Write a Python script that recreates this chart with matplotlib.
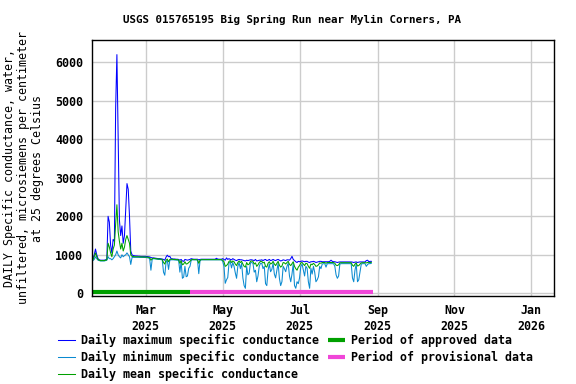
import numpy as np
import matplotlib
matplotlib.use("Agg")
import matplotlib.pyplot as plt
import matplotlib.dates as mdates

# daily values, 2025-01-17 .. 2025-08-27 (microsiemens per cm)
max_jan = [870, 900, 1000, 1150, 1000, 900, 870, 860, 860, 860, 860, 870, 880, 2000, 1850]
mean_jan = [850, 870, 950, 1050, 950, 880, 860, 850, 850, 850, 850, 860, 870, 1300, 1200]
min_jan = [840, 850, 880, 950, 900, 860, 850, 840, 840, 840, 840, 850, 860, 950, 900]

max_feb = [1250, 1050, 1400, 1350, 4800, 6200, 4000, 1900, 1500, 1750, 1300, 1500, 2200, 2850,
           2700, 2000, 1100, 1000, 980, 975, 970, 970, 965, 965, 960, 960, 960, 960]
mean_feb = [1050, 950, 1150, 1250, 1800, 2300, 1600, 1350, 1150, 1300, 1100, 1200, 1400, 1500,
            1400, 1300, 1000, 960, 955, 950, 950, 950, 948, 948, 946, 946, 945, 945]
min_feb = [900, 870, 900, 950, 1000, 1100, 1000, 950, 920, 1000, 950, 980, 1000, 1050,
           1000, 950, 750, 930, 935, 935, 935, 935, 935, 932, 932, 932, 930, 930]

max_mar = [960, 955, 950, 945, 930, 920, 920, 915, 910, 905, 900, 900, 895, 890, 880, 860,
           940, 990, 950, 960, 900, 895, 890, 890, 885, 885, 880, 860, 880, 840, 830]
mean_mar = [945, 940, 935, 925, 860, 900, 910, 905, 900, 895, 890, 890, 885, 880, 800, 760,
            860, 890, 820, 880, 885, 885, 880, 880, 875, 875, 870, 780, 850, 740, 760]
min_mar = [930, 925, 920, 900, 600, 880, 900, 895, 890, 885, 880, 880, 875, 870, 550, 470,
           800, 860, 620, 860, 870, 870, 870, 865, 865, 860, 860, 550, 820, 390, 420]

max_apr = [880, 870, 860, 870, 880, 900, 890, 885, 885, 885, 885, 870, 880, 885, 885,
           885, 885, 885, 885, 885, 885, 885, 885, 885, 885, 910, 890, 885, 885, 885]
mean_apr = [820, 760, 770, 800, 830, 870, 880, 875, 875, 875, 870, 780, 860, 875, 875,
            875, 875, 875, 875, 875, 875, 875, 875, 875, 875, 875, 875, 875, 875, 875]
min_apr = [700, 430, 450, 650, 700, 860, 870, 870, 870, 870, 860, 510, 850, 870, 870,
           870, 870, 870, 870, 870, 870, 870, 870, 870, 870, 870, 870, 870, 870, 870]

max_may = [900, 880, 860, 920, 880, 900, 880, 870, 900, 880, 860, 850, 870, 880, 870, 870,
           860, 850, 840, 860, 850, 860, 870, 870, 860, 850, 880, 840, 850, 860, 860]
mean_may = [860, 820, 700, 720, 760, 830, 850, 800, 840, 820, 760, 720, 800, 840, 800, 830,
            760, 700, 680, 800, 740, 760, 830, 840, 830, 760, 790, 700, 740, 800, 830]
min_may = [830, 700, 260, 350, 410, 780, 820, 660, 800, 700, 530, 390, 700, 800, 640, 780,
           400, 200, 130, 700, 480, 520, 790, 800, 780, 550, 600, 300, 450, 700, 780]

max_jun = [870, 850, 870, 880, 850, 860, 880, 850, 860, 880, 860, 850, 870, 880, 860,
           840, 850, 870, 860, 850, 870, 870, 860, 900, 960, 880, 850, 820, 800, 830]
mean_jun = [830, 790, 810, 700, 680, 780, 820, 760, 780, 830, 760, 720, 780, 830, 730,
            680, 710, 800, 790, 760, 800, 830, 750, 720, 770, 820, 700, 640, 600, 680]
min_jun = [780, 640, 700, 250, 200, 600, 760, 560, 620, 780, 500, 400, 600, 780, 390,
           200, 300, 700, 640, 560, 700, 780, 450, 300, 500, 770, 200, 130, 300, 250]

max_jul = [820, 830, 840, 830, 820, 830, 830, 810, 800, 820, 820, 830, 820, 800, 810, 820,
           830, 830, 820, 820, 820, 820, 820, 820, 830, 860, 830, 820, 820, 810, 800]
mean_jul = [720, 790, 800, 760, 720, 780, 770, 700, 650, 760, 740, 780, 750, 700, 710, 740,
            790, 780, 800, 800, 800, 780, 800, 800, 800, 800, 800, 800, 780, 730, 720]
min_jul = [400, 700, 760, 600, 450, 700, 650, 300, 130, 650, 500, 700, 550, 300, 350, 430,
           700, 640, 760, 770, 770, 680, 770, 770, 770, 770, 770, 770, 700, 480, 390]

max_aug = [810, 815, 815, 815, 815, 815, 815, 815, 815, 815, 815, 810, 800, 810,
           815, 800, 810, 815, 815, 815, 815, 815, 850, 860, 820, 830, 830]
mean_aug = [740, 790, 795, 795, 795, 795, 795, 795, 795, 795, 795, 730, 700, 760,
            790, 710, 720, 760, 790, 795, 795, 795, 790, 800, 795, 800, 805]
min_aug = [450, 760, 770, 770, 770, 770, 770, 770, 770, 770, 770, 400, 300, 600,
           760, 300, 350, 550, 760, 770, 770, 770, 700, 750, 770, 770, 780]

daily_max = max_jan + max_feb + max_mar + max_apr + max_may + max_jun + max_jul + max_aug
daily_mean = mean_jan + mean_feb + mean_mar + mean_apr + mean_may + mean_jun + mean_jul + mean_aug
daily_min = min_jan + min_feb + min_mar + min_apr + min_may + min_jun + min_jul + min_aug
dates = np.arange("2025-01-17", "2025-08-28", dtype="datetime64[D]")

approved = ("2025-01-17", "2025-04-05")
provisional = ("2025-04-05", "2025-08-28")

plt.rcParams["font.family"] = "DejaVu Sans Mono"
plt.rcParams["font.weight"] = "bold"
fs = 8.4

fig = plt.figure(figsize=(5.76, 3.84), dpi=100)
ax = fig.add_axes([91.5 / 576, 1 - 296 / 384, (554 - 91.5) / 576, (296 - 40) / 384])

ax.plot(dates, daily_max, color="#0000ff", lw=0.75, label="Daily maximum specific conductance")
ax.plot(dates, daily_min, color="#0a8ad0", lw=0.75, label="Daily minimum specific conductance")
ax.plot(dates, daily_mean, color="#00a000", lw=0.75, label="Daily mean specific conductance")
ax.plot(np.array(approved, dtype="datetime64[D]"), [40, 40], color="#00a000", lw=3,
        solid_capstyle="butt", label="Period of approved data")
ax.plot(np.array(provisional, dtype="datetime64[D]"), [40, 40], color="#f046d8", lw=3,
        solid_capstyle="butt", label="Period of provisional data")

ax.set_ylim(-70, 6580)
ax.set_xlim(np.datetime64("2025-01-16T20:00"), np.datetime64("2026-01-19"))
ax.set_yticks([0, 1000, 2000, 3000, 4000, 5000, 6000])
ax.xaxis.set_major_locator(mdates.MonthLocator(bymonth=[1, 3, 5, 7, 9, 11]))
ax.xaxis.set_major_formatter(mdates.DateFormatter("%b\n%Y"))
ax.grid(True, color="#cccccc", lw=1)
ax.set_axisbelow(True)
ax.tick_params(length=0, labelsize=fs, pad=6)
for lab in ax.get_xticklabels():
    lab.set_linespacing(1.25)
for s in ax.spines.values():
    s.set_linewidth(1)

ax.set_ylabel("DAILY Specific conductance, water,\nunfiltered, microsiemens per centimeter\nat 25 degrees Celsius",
              fontsize=fs, linespacing=1.1, labelpad=8)
fig.text(0.507, 1 - 20 / 384, "USGS 015765195 Big Spring Run near Mylin Corners, PA",
         ha="center", va="center", fontsize=7.8)

fig.legend(loc="upper left", bbox_to_anchor=(58 / 576, 1 - 334 / 384), ncol=2, frameon=False,
           fontsize=fs, handlelength=1.45, handletextpad=0.55, columnspacing=0.75,
           labelspacing=0.35, borderpad=0, borderaxespad=0)

fig.savefig("out.png", dpi=100)
